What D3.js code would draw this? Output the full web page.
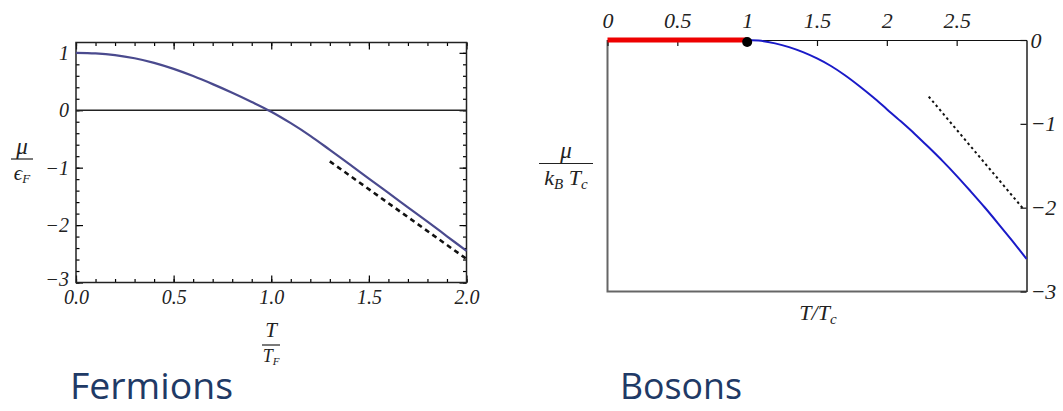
<!DOCTYPE html>
<html>
<head>
<meta charset="utf-8">
<script src="https://cdn.jsdelivr.net/npm/d3@7"></script>
<style>
  body { margin: 0; background: #fff; }
</style>
</head>
<body>
<svg id="chart" width="1063" height="411"></svg>
<script>
// Fermions: mu / eF against T / TF
const fermiT  = [0, 0.1, 0.2, 0.3, 0.4, 0.5, 0.6, 0.7, 0.8, 0.9, 1.0, 1.1, 1.2, 1.3, 1.4, 1.5, 1.6, 1.7, 1.8, 1.9, 2.0];
const fermiMu = [1.0, 0.99, 0.96, 0.905, 0.825, 0.72, 0.595, 0.455, 0.305, 0.145, -0.025, -0.225, -0.445, -0.69, -0.94, -1.19, -1.44, -1.69, -1.94, -2.195, -2.45];
const fermiAsymT  = [1.3, 2.0];
const fermiAsymMu = [-0.89, -2.59];
const fermiXTicks = [0, 0.5, 1.0, 1.5, 2.0];
const fermiYTicks = [1, 0, -1, -2, -3];

// Bosons: mu / kB Tc against T / Tc
const boseCondT  = [0, 1];
const boseCondMu = [0, 0];
const boseT  = [1.0, 1.1, 1.2, 1.3, 1.4, 1.5, 1.6, 1.7, 1.8, 1.9, 2.0, 2.1, 2.2, 2.3, 2.4, 2.5, 2.6, 2.7, 2.8, 2.9, 3.0];
const boseMu = [0, -0.01, -0.04, -0.085, -0.145, -0.22, -0.31, -0.42, -0.545, -0.68, -0.825, -0.97, -1.12, -1.28, -1.445, -1.62, -1.805, -1.995, -2.195, -2.40, -2.61];
const boseAsymT  = [2.30, 2.98];
const boseAsymMu = [-0.675, -2.02];
const boseXTicks = [0, 0.5, 1, 1.5, 2, 2.5];
const boseYTicks = [0, -1, -2, -3];

const serif = "'Liberation Serif', 'Times New Roman', serif";
const svg = d3.select("#chart");

// ---------- left plot (fermions) ----------
const fx = d3.scaleLinear().domain([0, 2]).range([76, 466.5]);
const fy = d3.scaleLinear().domain([-3, 1.18]).range([282.5, 42.5]);
const left = svg.append("g");

function styleLabels(sel) {
    sel.selectAll("text")
        .style("font-family", serif).style("font-style", "italic")
        .style("font-size", "20px").attr("fill", "#222");
}

function addTicks(g, axisFn, scale, ticks, size, fmt, transform) {
    const ax = axisFn(scale).tickValues(ticks).tickSizeInner(size).tickSizeOuter(0).tickPadding(4);
    if (fmt) ax.tickFormat(fmt); else ax.tickFormat("");
    const a = g.append("g").attr("transform", transform).call(ax);
    a.select(".domain").remove();
    a.selectAll("line").attr("stroke", "#000").attr("stroke-width", 1.2);
    styleLabels(a);
    return a;
}

const fxMinor = d3.range(0, 2.001, 0.1).map(v => +v.toFixed(2));
const fyMinor = d3.range(-3, 1.1, 0.2).map(v => +v.toFixed(2));
// bottom
addTicks(left, d3.axisBottom, fx, fxMinor, -3.5, null, `translate(0,${fy(-3)})`);
const fxb = addTicks(left, d3.axisBottom, fx, fermiXTicks, -7, d3.format(".1f"), `translate(0,${fy(-3)})`);
fxb.selectAll("text").attr("dy", "0.85em");
// top
addTicks(left, d3.axisTop, fx, fxMinor, -3.5, null, `translate(0,${fy.range()[1]})`);
addTicks(left, d3.axisTop, fx, fermiXTicks, -7, null, `translate(0,${fy.range()[1]})`);
// left
addTicks(left, d3.axisLeft, fy, fyMinor, -3.5, null, `translate(${fx(0)},0)`);
const fyl = addTicks(left, d3.axisLeft, fy, fermiYTicks, -7, d3.format("d"), `translate(${fx(0)},0)`);
fyl.selectAll("text").attr("x", -7);
fyl.selectAll(".tick").filter(d => d === -3).select("text").attr("dy", "0.15em");
// right
addTicks(left, d3.axisRight, fy, fyMinor, -3.5, null, `translate(${fx(2)},0)`);
addTicks(left, d3.axisRight, fy, fermiYTicks, -7, null, `translate(${fx(2)},0)`);

left.append("rect")
    .attr("x", fx(0)).attr("y", fy.range()[1])
    .attr("width", fx(2) - fx(0)).attr("height", fy(-3) - fy.range()[1])
    .attr("fill", "none").attr("stroke", "#222").attr("stroke-width", 1.5);

left.append("line")
    .attr("x1", fx(0)).attr("x2", fx(2)).attr("y1", fy(0)).attr("y2", fy(0))
    .attr("stroke", "#222").attr("stroke-width", 1.3);

const fLine = d3.line().x(d => fx(d[0])).y(d => fy(d[1])).curve(d3.curveCatmullRom);
left.append("path")
    .attr("d", fLine(d3.zip(fermiT, fermiMu)))
    .attr("fill", "none").attr("stroke", "#4a4a8e").attr("stroke-width", 2.2);
left.append("path")
    .attr("d", d3.line().x(d => fx(d[0])).y(d => fy(d[1]))(d3.zip(fermiAsymT, fermiAsymMu)))
    .attr("fill", "none").attr("stroke", "#111").attr("stroke-width", 2.6)
    .attr("stroke-dasharray", "5,4");

// axis labels (fractions)
function fracLine(g, cx, lineY, half) {
    g.append("line").attr("x1", cx - half).attr("x2", cx + half)
        .attr("y1", lineY).attr("y2", lineY).attr("stroke", "#222").attr("stroke-width", 1.2);
}
const labF = svg.append("g").style("font-family", serif).style("font-style", "italic").attr("fill", "#222");
labF.append("text").attr("x", 22).attr("y", 154).attr("text-anchor", "middle")
    .attr("font-size", 23).text("μ");
fracLine(labF, 22, 159, 11);
const ef = labF.append("text").attr("x", 22).attr("y", 180).attr("text-anchor", "middle").attr("font-size", 21);
ef.append("tspan").text("ϵ");
ef.append("tspan").attr("font-size", 13).attr("dy", 3).text("F");

labF.append("text").attr("x", 271).attr("y", 337).attr("text-anchor", "middle")
    .attr("font-size", 21).text("T");
fracLine(labF, 271, 345, 9);
const tf = labF.append("text").attr("x", 271).attr("y", 362).attr("text-anchor", "middle").attr("font-size", 18);
tf.append("tspan").text("T");
tf.append("tspan").attr("font-size", 11).attr("dy", 3).text("F");

// ---------- right plot (bosons) ----------
const bx = d3.scaleLinear().domain([0, 3]).range([607.5, 1026.5]);
const by = d3.scaleLinear().domain([-3, 0]).range([291.5, 40]);
const right = svg.append("g");

// left and bottom frame in gray
right.append("path")
    .attr("d", `M${bx(0)},${by(0)}V${by(-3)}H${bx(3)}`)
    .attr("fill", "none").attr("stroke", "#666").attr("stroke-width", 2);

const bxt = right.append("g").attr("transform", `translate(0,${by(0)})`)
    .call(d3.axisTop(bx).tickValues(boseXTicks).tickSizeInner(-6).tickSizeOuter(0).tickPadding(12)
        .tickFormat(d3.format("")));
bxt.select(".domain").attr("stroke", "#111").attr("stroke-width", 1.2);
bxt.selectAll("line").attr("stroke", "#111").attr("stroke-width", 1.2);
styleLabels(bxt);
bxt.selectAll("text").style("font-size", "22px");

const byr = right.append("g").attr("transform", `translate(${bx(3)},0)`)
    .call(d3.axisRight(by).tickValues(boseYTicks).tickSizeInner(-6).tickSizeOuter(0).tickPadding(4)
        .tickFormat(d3.format("d")));
byr.select(".domain").attr("stroke", "#111").attr("stroke-width", 1.4);
byr.selectAll("line").attr("stroke", "#111").attr("stroke-width", 1.2);
styleLabels(byr);
byr.selectAll("text").attr("x", 4).style("font-size", "22px");

const bLine = d3.line().x(d => bx(d[0])).y(d => by(d[1]));
right.append("path")
    .attr("d", bLine.curve(d3.curveCatmullRom)(d3.zip(boseT, boseMu)))
    .attr("fill", "none").attr("stroke", "#1a1ac8").attr("stroke-width", 2);
right.append("path")
    .attr("d", d3.line().x(d => bx(d[0])).y(d => by(d[1]))(d3.zip(boseCondT, boseCondMu)))
    .attr("fill", "none").attr("stroke", "#ee0000").attr("stroke-width", 5);
right.append("path")
    .attr("d", d3.line().x(d => bx(d[0])).y(d => by(d[1]))(d3.zip(boseAsymT, boseAsymMu)))
    .attr("fill", "none").attr("stroke", "#111").attr("stroke-width", 2)
    .attr("stroke-dasharray", "2.5,3");
right.append("circle")
    .attr("cx", bx(1)).attr("cy", by(0) + 2).attr("r", 5).attr("fill", "#000");

const labB = svg.append("g").style("font-family", serif).style("font-style", "italic").attr("fill", "#222");
labB.append("text").attr("x", 566).attr("y", 158).attr("text-anchor", "middle")
    .attr("font-size", 23).text("μ");
fracLine(labB, 566, 163.5, 27);
const kb = labB.append("text").attr("x", 566).attr("y", 185).attr("text-anchor", "middle").attr("font-size", 22);
kb.append("tspan").text("k");
kb.append("tspan").attr("font-size", 15).attr("dy", 4).text("B");
kb.append("tspan").attr("dy", -4).text(" T");
kb.append("tspan").attr("font-size", 15).attr("dy", 4).text("c");

const ttc = labB.append("text").attr("x", 818).attr("y", 320).attr("text-anchor", "middle").attr("font-size", 22);
ttc.append("tspan").text("T/T");
ttc.append("tspan").attr("font-size", 15).attr("dy", 4).text("c");

// ---------- captions ----------
const cap = svg.append("g").attr("fill", "#1f3a66");
cap.append("text").attr("x", 70).attr("y", 399)
    .style("font-family", "'Open Sans', 'DejaVu Sans', sans-serif").style("font-size", "37px")
    .attr("textLength", 163).attr("lengthAdjust", "spacingAndGlyphs").text("Fermions");
cap.append("text").attr("x", 620).attr("y", 399)
    .style("font-family", "'Open Sans', 'DejaVu Sans', sans-serif").style("font-size", "37px")
    .attr("textLength", 122).attr("lengthAdjust", "spacingAndGlyphs").text("Bosons");
</script>
</body>
</html>
